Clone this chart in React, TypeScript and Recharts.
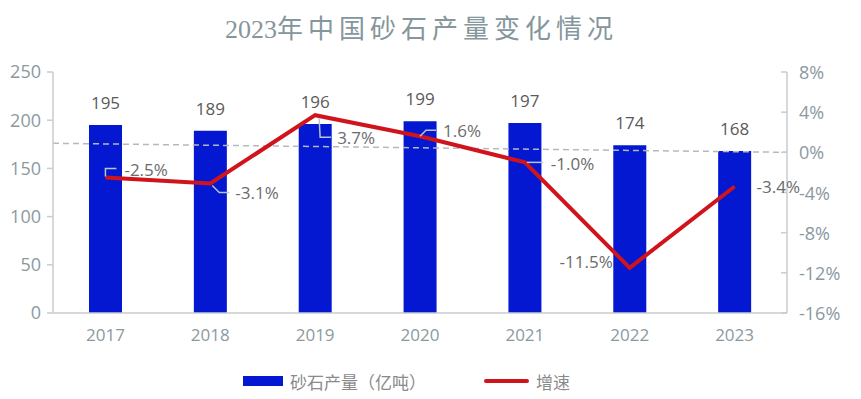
import React from "react";
import {
    ComposedChart,
    Bar,
    Line,
    XAxis,
    YAxis,
    ReferenceLine,
    LabelList,
    Legend,
} from "recharts";

const years = ["2017", "2018", "2019", "2020", "2021", "2022", "2023"];
const output = [195, 189, 196, 199, 197, 174, 168];
const growth = [-2.5, -3.1, 3.7, 1.6, -1.0, -11.5, -3.4];
const leftTicks = [0, 50, 100, 150, 200, 250];
const rightTicks = [-16, -12, -8, -4, 0, 4, 8];

const data = years.map((year, i) => ({
    year,
    output: output[i],
    growth: growth[i],
}));

const FONT = '"Open Sans", "Noto Sans CJK SC", sans-serif';
const AXIS_TEXT = "#8b999f";
const AXIS_LINE = "#c9cdd0";
const BLUE = "#0418d2";
const RED = "#d0141c";

// where each growth label sits relative to its point, and its leader line
const labelPos = [
    { path: (x, y) => `M${x},${y - 1}V${y - 9}H${x + 11}`, tx: 19, ty: -8, anchor: "start" },
    { path: (x, y) => `M${x + 2},${y + 2}L${x + 9},${y + 9}H${x + 19}`, tx: 25, ty: 9, anchor: "start" },
    { path: (x, y) => `M${x + 4},${y + 3}L${x + 5},${y + 22}H${x + 16}`, tx: 22, ty: 22, anchor: "start" },
    { path: (x, y) => `M${x},${y}L${x + 6},${y - 6}H${x + 16}`, tx: 23, ty: -6, anchor: "start" },
    { path: (x, y) => `M${x + 2},${y}H${x + 18}`, tx: 26, ty: 1, anchor: "start" },
    { path: null, tx: -17, ty: -6, anchor: "end" },
    { path: null, tx: 22, ty: 0, anchor: "start" },
];

const GrowthLabel = (props: any) => {
    const { x, y, value, index } = props;
    const p = labelPos[index];
    return (
        <g>
            {p.path && (
                <path d={p.path(x, y)} fill="none" stroke="#b9c6cf" strokeWidth={1.5} />
            )}
            <text
                x={x + p.tx}
                y={y + p.ty}
                textAnchor={p.anchor}
                dominantBaseline="central"
                fontSize={17}
                fill="#6b6b6b"
                fontFamily={FONT}
            >
                {value.toFixed(1)}%
            </text>
        </g>
    );
};

const RightTick = (props: any) => {
    const { x, y, payload } = props;
    return (
        <g>
            <line x1={x - 6} y1={y} x2={x} y2={y} stroke={AXIS_LINE} strokeWidth={1.5} />
            <text
                x={x + 12}
                y={y}
                dominantBaseline="central"
                fontSize={18}
                fill={AXIS_TEXT}
                fontFamily={FONT}
            >
                {payload.value}%
            </text>
        </g>
    );
};

const LegendContent = () => (
    <div
        style={{
            height: 24,
            display: "flex",
            alignItems: "center",
            fontFamily: FONT,
            fontSize: 17,
            color: "#8a8a8a",
        }}
    >
        <span style={{ width: 243 }} />
        <span style={{ width: 40, height: 10, background: BLUE, marginRight: 7 }} />
        <span>砂石产量（亿吨）</span>
        <span style={{ width: 58 }} />
        <span style={{ width: 45, height: 4, borderRadius: 2, background: RED, marginRight: 7 }} />
        <span>增速</span>
    </div>
);

export default function App() {
    return (
        <div style={{ position: "absolute", left: 0, top: 0, width: 861, height: 399, background: "#fff" }}>
            <div
                style={{
                    position: "absolute",
                    top: 12,
                    left: 0,
                    width: 843,
                    textAlign: "center",
                    fontFamily: '"Liberation Serif", "Noto Sans CJK SC", serif',
                    fontSize: 26,
                    color: "#85969c",
                    lineHeight: "36px",
                }}
            >
                <span>2023</span>
                <span style={{ letterSpacing: 5 }}>年中国砂石产量变化情况</span>
            </div>
            <ComposedChart
                width={861}
                height={399}
                data={data}
                margin={{ top: 72, right: 0, bottom: 6, left: 0 }}
                barCategoryGap={0}
            >
                <XAxis
                    dataKey="year"
                    xAxisId="cat"
                    tickLine={false}
                    tickSize={0}
                    tickMargin={16}
                    height={56}
                    axisLine={{ stroke: AXIS_LINE, strokeWidth: 1.5 }}
                    tick={{ fill: AXIS_TEXT, fontSize: 17, fontFamily: FONT }}
                />
                <XAxis xAxisId="ref" type="number" domain={[0, 6]} allowDataOverflow hide />
                <YAxis
                    yAxisId="left"
                    domain={[0, 250]}
                    ticks={leftTicks}
                    width={53}
                    tickSize={6}
                    tickMargin={6}
                    axisLine={{ stroke: AXIS_LINE, strokeWidth: 1.5 }}
                    tickLine={{ stroke: AXIS_LINE, strokeWidth: 1.5 }}
                    tick={{ fill: AXIS_TEXT, fontSize: 18, fontFamily: FONT }}
                />
                <YAxis
                    yAxisId="right"
                    orientation="right"
                    domain={[-16, 8]}
                    ticks={rightTicks}
                    width={74}
                    tickSize={0}
                    tickMargin={0}
                    tickLine={false}
                    axisLine={{ stroke: AXIS_LINE, strokeWidth: 1.5 }}
                    tick={<RightTick />}
                />
                <Legend verticalAlign="bottom" align="left" content={<LegendContent />} />
                <Bar
                    xAxisId="cat"
                    yAxisId="left"
                    dataKey="output"
                    name="砂石产量（亿吨）"
                    fill={BLUE}
                    barSize={33}
                    isAnimationActive={false}
                >
                    <LabelList
                        dataKey="output"
                        position="top"
                        offset={16}
                        fill="#5a5a5a"
                        fontSize={17}
                        fontFamily={FONT}
                    />
                </Bar>
                <ReferenceLine
                    xAxisId="ref"
                    yAxisId="right"
                    segment={[
                        { x: 0, y: 0.9 },
                        { x: 6, y: 0 },
                    ]}
                    stroke="#b5b9bc"
                    strokeWidth={1.5}
                    strokeDasharray="6 4"
                />
                <Line
                    xAxisId="cat"
                    yAxisId="right"
                    dataKey="growth"
                    name="增速"
                    stroke={RED}
                    strokeWidth={4}
                    dot={false}
                    activeDot={false}
                    isAnimationActive={false}
                >
                    <LabelList dataKey="growth" content={<GrowthLabel />} />
                </Line>
            </ComposedChart>
        </div>
    );
}
